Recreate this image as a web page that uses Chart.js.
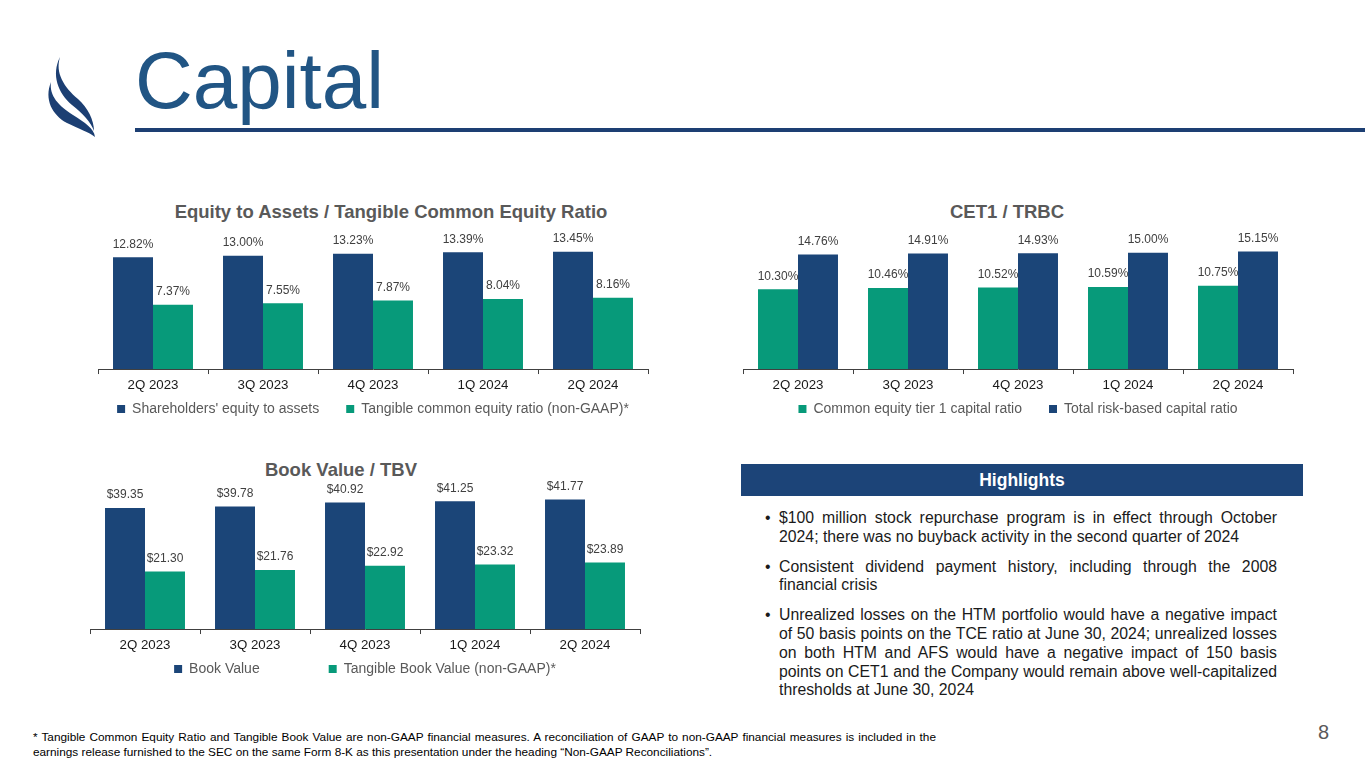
<!DOCTYPE html>
<html>
<head>
<meta charset="utf-8">
<script src="https://cdn.jsdelivr.net/npm/chart.js@4.4.1/dist/chart.umd.min.js"></script>
<style>
  html, body { margin: 0; padding: 0; background: #fff; }
  body { width: 1365px; height: 768px; position: relative; overflow: hidden; font-family: "Liberation Sans", Arial, sans-serif; }
  .abs { position: absolute; }
  .page-title { left: 135px; top: 35px; font-size: 80px; color: #215584; line-height: 92px; }
  .rule { left: 135px; top: 128px; width: 1230px; height: 4px; background: #1d3f73; }
  .chart-title { font-size: 18.5px; font-weight: bold; color: #595959; text-align: center; line-height: 22px; white-space: nowrap; }
  .chart-box { position: absolute; }
  .hl-bar { left: 741px; top: 464px; width: 562px; height: 32px; background: #1c4478; color: #fff; font-weight: bold; font-size: 17.5px; text-align: center; line-height: 32px; }
  .hl-list { left: 765px; top: 509px; width: 512px; font-size: 15.8px; line-height: 18.7px; color: #1a1a1a; }
  .hl-list p { margin: 0 0 11.3px 0; padding-left: 14px; position: relative; text-align: justify; }
  .hl-list p::before { content: "\2022"; position: absolute; left: 0; top: 0; }
  .footnote { left: 33px; top: 730px; width: 903px; font-family: "Liberation Sans Narrow", "Arial Narrow", "Liberation Sans", sans-serif; font-size: 11.8px; line-height: 15px; color: #000; text-align: justify; text-align-last: left; }
  .page-num { left: 1318px; top: 721px; font-size: 20px; color: #595959; }
</style>
</head>
<body>

<svg class="abs" style="left:0;top:0" width="130" height="150" viewBox="0 0 130 150">
  <path d="M60,57 C55,73 64,87 78,99 C88,108 94,120 94,131 C91,122 83,114 72,105 C58,93 51,75 60,57 Z" fill="#1c3f73"/>
  <path d="M51,82 C49,96 59,106 73,115 C85,123 94,128 95,137 C89,132 79,129 67,123 C52,115 44,99 51,82 Z" fill="#1c3f73"/>
</svg>
<div class="abs page-title">Capital</div>
<div class="abs rule"></div>

<div class="abs chart-title" style="left:91px;top:201px;width:600px;">Equity to Assets / Tangible Common Equity Ratio</div>
<div class="chart-box" style="left:88px;top:220px;width:570px;height:206px;"><canvas id="equityChart"></canvas></div>

<div class="abs chart-title" style="left:857px;top:201px;width:300px;">CET1 / TRBC</div>
<div class="chart-box" style="left:733px;top:220px;width:570px;height:206px;"><canvas id="capitalChart"></canvas></div>

<div class="abs chart-title" style="left:191px;top:459px;width:300px;">Book Value / TBV</div>
<div class="chart-box" style="left:80px;top:479px;width:570px;height:207px;"><canvas id="bookChart"></canvas></div>

<div class="abs hl-bar">Highlights</div>
<div class="abs hl-list">
  <p>$100 million stock repurchase program is in effect through October 2024; there was no buyback activity in the second quarter of 2024</p>
  <p>Consistent dividend payment history, including through the 2008 financial crisis</p>
  <p>Unrealized losses on the HTM portfolio would have a negative impact of 50 basis points on the TCE ratio at June 30, 2024; unrealized losses on both HTM and AFS would have a negative impact of 150 basis points on CET1 and the Company would remain above well-capitalized thresholds at June 30, 2024</p>
</div>

<div class="abs footnote">* Tangible Common Equity Ratio and Tangible Book Value are non-GAAP financial measures. A reconciliation of GAAP to non-GAAP financial measures is included in the earnings release furnished to the SEC on the same Form 8-K as this presentation under the heading “Non-GAAP Reconciliations”.</div>
<div class="abs page-num">8</div>

<script>
const quarters = ['2Q 2023', '3Q 2023', '4Q 2023', '1Q 2024', '2Q 2024'];

const equityToAssets = [12.82, 13.00, 13.23, 13.39, 13.45];
const tangibleCommonEquity = [7.37, 7.55, 7.87, 8.04, 8.16];

const cet1Ratio = [10.30, 10.46, 10.52, 10.59, 10.75];
const totalRiskBasedRatio = [14.76, 14.91, 14.93, 15.00, 15.15];

const bookValue = [39.35, 39.78, 40.92, 41.25, 41.77];
const tangibleBookValue = [21.30, 21.76, 22.92, 23.32, 23.89];

const navy = '#1b4578';
const teal = '#079a7a';
const fontFamily = '"Liberation Sans", Arial, sans-serif';

Chart.defaults.font.family = fontFamily;
Chart.defaults.animation = false;

const formats = {
    pct: v => v.toFixed(2) + '%',
    usd: v => '$' + v.toFixed(2),
};

// draws the value over each bar, like the "outside end" labels in the deck
const barLabels = {
    id: 'barLabels',
    afterDatasetsDraw(chart, args, opts) {
        const ctx = chart.ctx;
        const fmt = formats[opts.format];
        ctx.save();
        ctx.font = '12px ' + fontFamily;
        ctx.fillStyle = '#404040';
        ctx.textAlign = 'center';
        ctx.textBaseline = 'bottom';
        chart.data.datasets.forEach((ds, i) => {
            chart.getDatasetMeta(i).data.forEach((bar, j) => {
                ctx.fillText(fmt(ds.data[j]), bar.x, bar.y - 7);
            });
        });
        ctx.restore();
    },
};

// the deck's legends sit further apart than chart.js would place them
function spacedLabels(gap) {
    return function(chart) {
        const items = Chart.defaults.plugins.legend.labels.generateLabels(chart);
        items.forEach((item, i) => {
            if (i < items.length - 1) item.text = item.text + '\u2002'.repeat(gap);
        });
        return items;
    };
}

function makeOptions(min, max, topPad, format, gap) {
    return {
        responsive: true,
        maintainAspectRatio: false,
        layout: { padding: { top: topPad, left: 10, right: 10, bottom: 0 } },
        datasets: { bar: { categoryPercentage: 0.727, barPercentage: 1 } },
        scales: {
            x: {
                grid: { display: true, drawOnChartArea: false, drawTicks: true, tickLength: 5, offset: true, color: '#404040' },
                border: { display: true, color: '#404040', width: 1 },
                ticks: { color: '#1a1a1a', font: { size: 13.3 }, padding: 3 },
            },
            y: { display: false, min: min, max: max },
        },
        plugins: {
            legend: {
                position: 'bottom',
                labels: {
                    boxWidth: 8, boxHeight: 8, color: '#595959', font: { size: 14 }, padding: 6,
                    generateLabels: spacedLabels(gap),
                },
            },
            tooltip: { enabled: false },
            barLabels: { format: format },
        },
    };
}

new Chart(document.getElementById('equityChart').getContext('2d'), {
    type: 'bar',
    data: {
        labels: quarters,
        datasets: [
            { label: "Shareholders' equity to assets", data: equityToAssets, backgroundColor: navy, borderWidth: 0 },
            { label: 'Tangible common equity ratio (non-GAAP)*', data: tangibleCommonEquity, backgroundColor: teal, borderWidth: 0 },
        ],
    },
    options: makeOptions(0, 16, 9.5, 'pct', 3),
    plugins: [barLabels],
});

new Chart(document.getElementById('capitalChart').getContext('2d'), {
    type: 'bar',
    data: {
        labels: quarters,
        datasets: [
            { label: 'Common equity tier 1 capital ratio', data: cet1Ratio, backgroundColor: teal, borderWidth: 0 },
            { label: 'Total risk-based capital ratio', data: totalRiskBasedRatio, backgroundColor: navy, borderWidth: 0 },
        ],
    },
    options: makeOptions(0, 18, 9.5, 'pct', 3),
    plugins: [barLabels],
});

new Chart(document.getElementById('bookChart').getContext('2d'), {
    type: 'bar',
    data: {
        labels: quarters,
        datasets: [
            { label: 'Book Value', data: bookValue, backgroundColor: navy, borderWidth: 0 },
            { label: 'Tangible Book Value (non-GAAP)*', data: tangibleBookValue, backgroundColor: teal, borderWidth: 0 },
        ],
    },
    options: makeOptions(5, 45, 9, 'usd', 9),
    plugins: [barLabels],
});
</script>
</body>
</html>
